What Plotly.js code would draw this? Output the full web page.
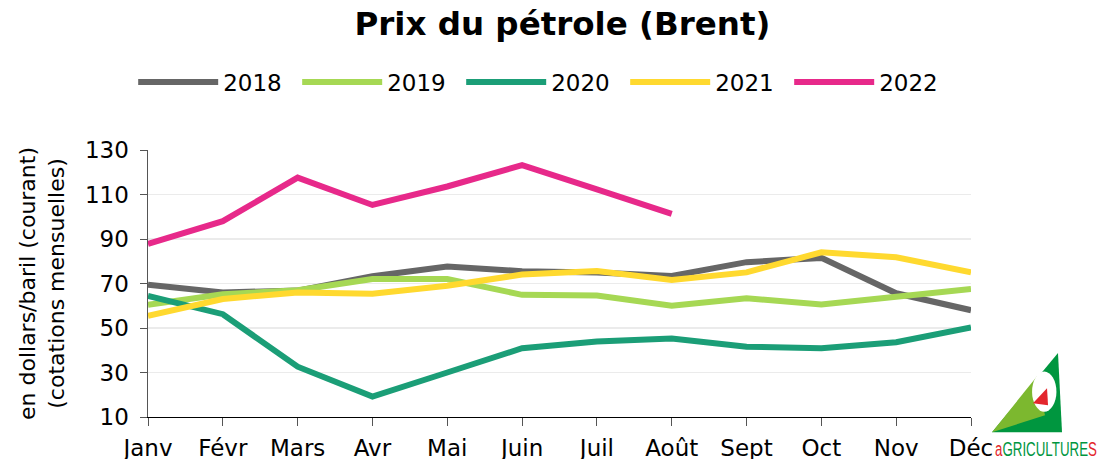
<!DOCTYPE html>
<html>
<head>
<meta charset="utf-8">
<script src="https://cdn.plot.ly/plotly-3.0.1.min.js"></script>
<style>html,body{margin:0;padding:0;background:#fff;}#chart{width:1107px;height:459px;}</style>
</head>
<body>
<div id="chart"></div>
<script>
const months = ["Janv","Févr","Mars","Avr","Mai","Juin","Juil","Août","Sept","Oct","Nov","Déc"];
const years = ["2018","2019","2020","2021","2022"];
const v2018 = [69.4, 66.0, 66.8, 73.3, 77.6, 75.5, 75.0, 73.4, 79.6, 81.5, 65.6, 58.0];
const v2019 = [60.4, 65.2, 67.0, 72.0, 72.0, 64.9, 64.6, 60.0, 63.4, 60.6, 64.0, 67.5];
const v2020 = [64.4, 56.2, 32.6, 19.2, 30.0, 40.9, 43.9, 45.3, 41.6, 40.9, 43.6, 50.3];
const v2021 = [55.5, 63.0, 66.0, 65.4, 69.0, 74.0, 75.6, 71.6, 75.0, 84.0, 81.8, 75.0];
const v2022 = [87.8, 98.0, 117.6, 105.3, 113.6, 123.2, 112.3, 101.3];
const series = [v2018, v2019, v2020, v2021, v2022];
const colors = ["#666666", "#a6d854", "#1b9e77", "#ffd92f", "#e7298a"];
const yTicks = [10, 30, 50, 70, 90, 110, 130];

const traces = series.map((vals, i) => ({
  type: "scatter",
  mode: "lines",
  name: years[i],
  x: months.slice(0, vals.length),
  y: vals,
  line: {color: colors[i], width: 6},
  hoverinfo: "skip"
}));

const font = "DejaVu Sans, Verdana, sans-serif";
const layout = {
  width: 1107, height: 459,
  margin: {l: 148, r: 136, t: 150, b: 42},
  paper_bgcolor: "#fff", plot_bgcolor: "#fff",
  font: {family: font, color: "#000", size: 22},
  title: {text: "<b>Prix du pétrole (Brent)</b>", font: {family: font, size: 32.5, color: "#000"}, x: 0.508, xanchor: "center", y: 0.948, yanchor: "middle"},
  showlegend: true,
  legend: {orientation: "h", x: -0.018, xanchor: "left", y: 1.2545, yanchor: "middle",
           font: {family: font, size: 23, color: "#000"}, itemwidth: 80,
           entrywidth: 69, entrywidthmode: "pixels", traceorder: "normal"},
  xaxis: {
    type: "category", categoryorder: "array", categoryarray: months,
    range: [0, 11], showgrid: false, zeroline: false,
    showline: true, linecolor: "#000", linewidth: 1,
    ticks: "outside", ticklen: 8, tickcolor: "#555", tickwidth: 1,
    ticklabelstandoff: 2,
    tickfont: {family: font, size: 23, color: "#000"}, fixedrange: true
  },
  yaxis: {
    range: [10, 130], tickvals: yTicks, ticktext: yTicks.map(String),
    showgrid: true, gridcolor: "#ebebeb", gridwidth: 1.5, zeroline: false,
    showline: true, linecolor: "#555", linewidth: 1.5,
    ticks: "outside", ticklen: 7, tickcolor: "#555",
    ticklabelstandoff: 6,
    tickfont: {family: font, size: 23, color: "#000"},
    title: {text: "en dollars/baril (courant)<br>(cotations mensuelles)", font: {family: font, size: 22, color: "#000"}, standoff: 14},
    fixedrange: true
  },
  shapes: [
    {type: "path", xref: "paper", yref: "paper",
     path: "M 1.0255 -0.0575 L 1.1057 0.2395 L 1.1106 -0.0575 Z", fillcolor: "#00963f", line: {width: 0}},
    {type: "path", xref: "paper", yref: "paper",
     path: "M 1.0255 -0.0575 L 1.0802 0.153 L 1.0899 0.0064 Z", fillcolor: "#7cb82f", line: {width: 0}},
    {type: "circle", xref: "paper", yref: "paper",
     x0: 1.0742, x1: 1.1038, y0: 0.02, y1: 0.17, fillcolor: "#ffffff", line: {width: 0}},
    {type: "path", xref: "paper", yref: "paper",
     path: "M 1.0753 0.0515 L 1.0924 0.108 L 1.0936 0.044 Z", fillcolor: "#e3262d", line: {width: 0}}
  ],
  annotations: [
    {xref: "paper", yref: "paper", x: 1.0267, y: -0.118, xanchor: "left", yanchor: "middle", showarrow: false,
     text: "<span style='color:#e3262d'>a</span><span style='color:#00963f'>GRICULTURE</span><span style='color:#e3262d'>S</span>",
     font: {family: "Liberation Sans, sans-serif", size: 21}}
  ]
};

Plotly.newPlot("chart", traces, layout, {displayModeBar: false, staticPlot: true}).then(function (gd) {
  const t = gd.querySelector(".annotation-text");
  if (t) {
    const bb = t.getBBox();
    const sx = 102 / bb.width;
    const x0 = bb.x;
    t.setAttribute("transform", "translate(" + (x0 * (1 - sx)) + ",0) scale(" + sx + ",1)");
  }
});
</script>
</body>
</html>
